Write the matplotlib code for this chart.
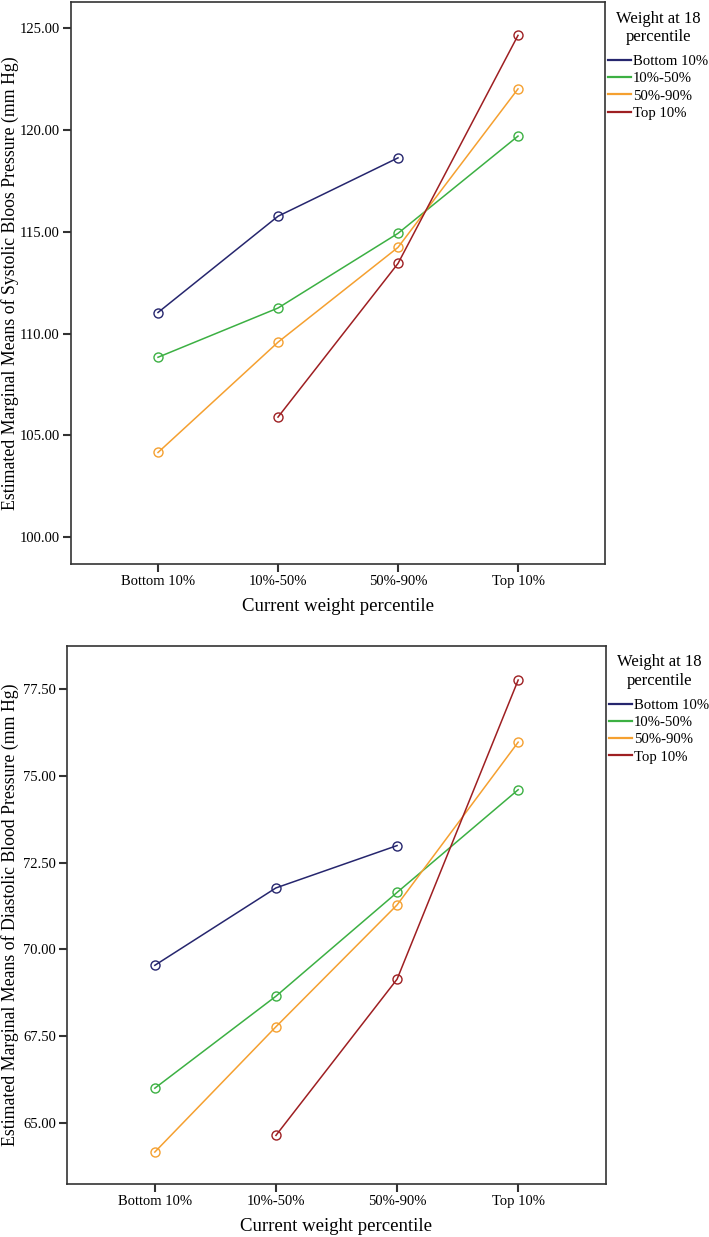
import matplotlib
matplotlib.use("Agg")
import matplotlib.pyplot as plt

# x categories (current weight percentile)
categories = ["Bottom 10%", "10%-50%", "50%-90%", "Top 10%"]
groups = ["Bottom 10%", "10%-50%", "50%-90%", "Top 10%"]  # weight at 18
colors = ["#26266e", "#3cb043", "#f5a030", "#9e1f22"]

# systolic: None where a cell is missing
sbp = {
    "Bottom 10%": [111.04, 115.77, 118.64, None],
    "10%-50%": [108.84, 111.26, 114.93, 119.71],
    "50%-90%": [104.16, 109.58, 114.24, 122.03],
    "Top 10%": [None, 105.90, 113.45, 124.66],
}
sbp_ticks = [100, 105, 110, 115, 120, 125]

# diastolic
dbp = {
    "Bottom 10%": [69.54, 71.77, 72.99, None],
    "10%-50%": [66.00, 68.65, 71.64, 74.60],
    "50%-90%": [64.16, 67.77, 71.28, 75.97],
    "Top 10%": [None, 64.64, 69.14, 77.76],
}
dbp_ticks = [65.0, 67.5, 70.0, 72.5, 75.0, 77.5]

plt.rcParams['font.family'] = ['Liberation Serif', 'DejaVu Serif']

W, H = 709, 1237
fig = plt.figure(figsize=(W / 100, H / 100), dpi=100)


def panel(rect, data, ticks, ylim, ylabel):
    ax = fig.add_axes(rect)
    for g, c in zip(groups, colors):
        vals = data[g]
        xs = [i for i, v in enumerate(vals) if v is not None]
        ys = [v for v in vals if v is not None]
        ax.plot(xs, ys, color=c, lw=1.1, marker='o', ms=6.5,
                mfc='none', mec=c, mew=1.0, label=g)
    ax.set_xlim(-0.725, 3.725)
    ax.set_ylim(*ylim)
    ax.set_xticks(range(len(categories)))
    ax.set_xticklabels(categories, fontsize=10.5)
    ax.set_yticks(ticks)
    ax.set_yticklabels([f"{t:.2f}" for t in ticks], fontsize=10.5)
    ax.tick_params(direction='out', length=6, width=1.5, color='#333333', pad=2)
    for s in ax.spines.values():
        s.set_linewidth(1.2)
        s.set_color('#333333')
    ax.set_ylabel(ylabel, fontsize=12.8)
    # right edge of the rotated label sits ~19 px from the figure edge
    left_px = rect[0] * W
    ax.yaxis.set_label_coords(-(left_px - 19) / (rect[2] * W), 0.5)
    ax.set_xlabel("Current weight percentile", fontsize=13.5, labelpad=7)
    leg = ax.legend(loc='upper left', bbox_to_anchor=(1.0, 0.99), frameon=False,
                    title="Weight at 18\npercentile", title_fontsize=12,
                    fontsize=10.6, handlelength=1.55, handletextpad=0.15,
                    borderaxespad=0.0, labelspacing=0.27, borderpad=0.2,
                    alignment='center')
    leg.get_title().set_multialignment('center')
    leg._legend_box.sep = 7
    for line in leg.get_lines():
        line.set_marker('')
        line.set_linewidth(1.6)
    return ax


panel([71 / W, 1 - 564 / H, 534 / W, 562 / H], sbp, sbp_ticks, (98.68, 126.3),
      "Estimated Marginal Means of Systolic Bloos Pressure (mm Hg)")
panel([67 / W, 1 - 1184 / H, 539 / W, 538 / H], dbp, dbp_ticks, (63.24, 78.74),
      "Estimated Marginal Means of Diastolic Blood Pressure (mm Hg)")

fig.savefig("out.png", dpi=100)
